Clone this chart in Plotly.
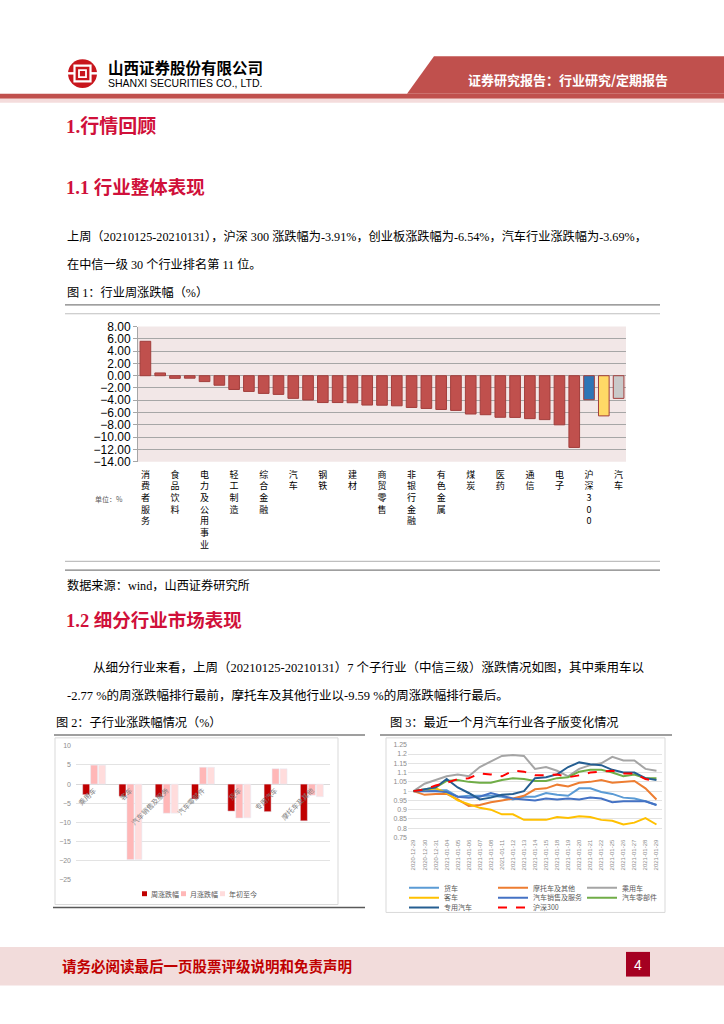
import plotly.graph_objects as go

W, H = 724, 1024
def X(px): return px / W
def Y(py): return 1 - py / H

# ---------------- data ----------------
# Figure 1: weekly change of CITIC level-1 industries (%), sorted
industries = ["消费者服务", "石油石化", "食品饮料", "家电", "电力及公用事业", "农林牧渔",
              "轻工制造", "纺织服装", "综合金融", "建筑", "汽车", "基础化工", "钢铁", "机械",
              "建材", "交通运输", "商贸零售", "房地产", "非银行金融", "银行", "有色金属", "综合",
              "煤炭", "计算机", "医药", "传媒", "通信", "电力设备及新能源", "电子", "国防军工"]
industry_chg = [5.60, 0.45, -0.43, -0.40, -0.96, -1.55, -2.24, -2.56, -2.88, -3.04,
                -3.69, -3.95, -4.37, -4.37, -4.40, -4.78, -4.80, -4.90, -5.17, -5.33,
                -5.50, -5.65, -6.24, -6.35, -6.77, -6.79, -6.99, -7.15, -8.00, -11.68]
index_names = ["沪深300", "创业板", "汽车"]
index_chg = [-3.91, -6.54, -3.69]

# Figure 2: sub-industry changes (%)
sub_names = ["乘用车", "客车", "汽车销售及服务", "汽车零部件", "货车", "专用汽车", "摩托车及其他"]
sub_week = [-2.77, -3.20, -3.40, -3.90, -7.05, -7.20, -9.59]
sub_month = [4.95, -19.70, -7.60, 4.40, -8.85, 4.00, -2.90]
sub_ytd = [4.95, -19.70, -7.60, 4.40, -8.80, 4.00, -3.30]
bar_series = ["周涨跌幅", "月涨跌幅", "年初至今"]

# Figure 3: normalised index of sub-industries over the last month
dates = ["2020-12-29", "2020-12-30", "2020-12-31", "2021-01-04", "2021-01-05", "2021-01-06",
         "2021-01-07", "2021-01-08", "2021-01-11", "2021-01-12", "2021-01-13", "2021-01-14",
         "2021-01-15", "2021-01-18", "2021-01-19", "2021-01-20", "2021-01-21", "2021-01-22",
         "2021-01-25", "2021-01-26", "2021-01-27", "2021-01-28", "2021-01-29"]
line_names = ["货车", "摩托车及其他", "乘用车", "客车", "汽车销售及服务", "汽车零部件", "专用汽车", "沪深300"]
truck = [1.0, 1.005, 1.005, 1.005, 0.970, 0.975, 0.975, 0.975, 0.970, 0.955, 0.970, 0.970,
         0.990, 0.980, 0.975, 1.015, 1.015, 0.995, 0.985, 0.965, 0.960, 0.945, 0.925]
moto = [1.0, 0.980, 0.985, 0.985, 0.955, 0.920, 0.925, 0.940, 0.950, 0.960, 0.975, 1.010,
        1.015, 1.035, 1.025, 1.045, 1.050, 1.060, 1.045, 1.050, 1.055, 1.015, 0.955]
passenger = [1.0, 1.040, 1.060, 1.080, 1.090, 1.080, 1.130, 1.160, 1.190, 1.195, 1.190, 1.120,
             1.130, 1.110, 1.080, 1.120, 1.140, 1.150, 1.185, 1.165, 1.165, 1.120, 1.110]
bus = [1.0, 1.005, 1.015, 0.990, 0.950, 0.930, 0.910, 0.900, 0.875, 0.875, 0.845, 0.845,
       0.845, 0.860, 0.855, 0.865, 0.860, 0.845, 0.840, 0.820, 0.830, 0.855, 0.820]
sales = [1.0, 1.000, 1.000, 0.995, 0.970, 0.965, 0.970, 0.990, 0.975, 0.960, 0.955, 0.950,
         0.960, 0.955, 0.960, 0.955, 0.965, 0.960, 0.940, 0.945, 0.945, 0.945, 0.925]
parts = [1.0, 1.010, 1.020, 1.055, 1.060, 1.050, 1.045, 1.045, 1.060, 1.070, 1.065, 1.055,
         1.055, 1.070, 1.075, 1.105, 1.115, 1.115, 1.100, 1.080, 1.090, 1.070, 1.070]
special = [1.0, 1.010, 1.020, 1.065, 1.020, 0.990, 0.955, 0.965, 0.980, 0.985, 1.000, 1.070,
           1.075, 1.090, 1.130, 1.155, 1.145, 1.140, 1.115, 1.100, 1.100, 1.070, 1.060]
hs300 = [1.0, 1.010, 1.030, 1.045, 1.065, 1.070, 1.095, 1.090, 1.080, 1.110, 1.105, 1.085,
         1.085, 1.090, 1.075, 1.085, 1.100, 1.105, 1.110, 1.095, 1.095, 1.065, 1.055]
line_values = [truck, moto, passenger, bus, sales, parts, special, hs300]

# ---------------- styles ----------------
RED = "#C0504D"
HEAD_RED = "#D0103A"
BODY = 'Liberation Serif, "Noto Sans CJK SC", serif'
CJK = '"Noto Sans CJK SC", sans-serif'
SANS = 'Liberation Sans, "Noto Sans CJK SC", sans-serif'
line_colors = ["#5B9BD5", "#ED7D31", "#A5A5A5", "#FFC000", "#4472C4", "#70AD47", "#255E91", "#FF0000"]
bar_cols = ["#C00000", "#FFB7B7", "#FFDCDC"]

fig = go.Figure()

# ---- Figure 1 ----
names1 = industries + index_names
vals1 = industry_chg + index_chg
pos1 = list(range(len(names1)))
cols1 = [RED] * len(industries) + ["#2E75B6", "#FFD966", "#C9C9C9"]
fig.add_trace(go.Bar(x=pos1, y=vals1, marker=dict(color=cols1, line=dict(color="#A23E3C", width=1)),
                     width=0.72, xaxis="x", yaxis="y", showlegend=False, hovertext=names1))

# ---- Figure 2 ----
for nm, vals, c in zip(bar_series, [sub_week, sub_month, sub_ytd], bar_cols):
    fig.add_trace(go.Bar(x=sub_names, y=vals, name=nm, marker=dict(color=c),
                         xaxis="x2", yaxis="y2", showlegend=False))

# ---- Figure 3 ----
for i, (nm, vals) in enumerate(zip(line_names, line_values)):
    fig.add_trace(go.Scatter(x=dates, y=vals, name=nm, mode="lines",
                             line=dict(color=line_colors[i], width=2,
                                       dash="dash" if nm == "沪深300" else "solid"),
                             xaxis="x3", yaxis="y3", legend=["legend2", "legend3", "legend4"][i // 3]))

# ---- axes ----
even = [p for p in pos1 if p % 2 == 0]
fig.update_layout(
    xaxis=dict(domain=[X(138), X(626)], range=[-0.5, len(names1) - 0.5], anchor="y",
               tickvals=even, ticktext=["<br>".join(list(names1[p])) for p in even],
               tickangle=0, tickfont=dict(family=CJK, size=9, color="#000"),
               showgrid=False, zeroline=False, showline=False, ticks="", ticklabelstandoff=6),
    yaxis=dict(domain=[Y(461), Y(324)], range=[-14, 8], dtick=2, tick0=0, tickformat=".2f",
               anchor="x", showgrid=True, gridcolor="#A6A6A6", gridwidth=1, zeroline=False,
               showline=True, linecolor="#A6A6A6", ticks="outside", ticklen=4, tickcolor="#A6A6A6",
               tickfont=dict(family=SANS, size=12, color="#000")),
    xaxis2=dict(domain=[X(76), X(330)], anchor="free", position=Y(749 + 10 / 35 * 136),
                type="category", tickangle=-45, tickfont=dict(family=CJK, size=7, color="#7F7F7F"),
                showgrid=False, zeroline=False, showline=False, ticks=""),
    yaxis2=dict(domain=[Y(885), Y(749)], range=[-25, 10], dtick=5, anchor="x2",
                gridcolor="#E3E3E3", zeroline=True, zerolinecolor="#D9D9D9", zerolinewidth=1,
                tickfont=dict(family=SANS, size=7, color="#8C8C8C"), showline=False, ticks="",
                ticklabelstandoff=4),
    xaxis3=dict(domain=[X(408), X(662)], range=[-0.5, len(dates) - 0.5], type="category",
                anchor="y3", tickangle=-90, tickfont=dict(family=SANS, size=6, color="#8C8C8C"),
                showgrid=False, zeroline=False, showline=False, ticks=""),
    yaxis3=dict(domain=[Y(842), Y(748)], range=[0.75, 1.25], dtick=0.05, tick0=0.75, anchor="x3",
                gridcolor="#E3E3E3", zeroline=False, showline=False, ticks="",
                tickfont=dict(family=SANS, size=7, color="#8C8C8C")),
    barmode="group", bargap=0.34, bargroupgap=0.12,
)

leg_common = dict(orientation="h", font=dict(family=CJK, size=7, color="#595959"),
                  bgcolor="rgba(0,0,0,0)", xanchor="left", yanchor="middle",
                  entrywidthmode="pixels", itemwidth=30, tracegroupgap=0)
fig.update_layout(
    legend2=dict(leg_common, x=X(404), y=Y(893), entrywidth=44),
    legend3=dict(leg_common, x=X(404), y=Y(903), entrywidth=44),
    legend4=dict(leg_common, x=X(404), y=Y(913), entrywidth=44),
)

# ---------------- page decoration ----------------
shapes = []
def rect(x0, y0, x1, y1, fill=None, line=None, lw=1, layer="below"):
    shapes.append(dict(type="rect", xref="paper", yref="paper", x0=X(x0), x1=X(x1), y0=Y(y1), y1=Y(y0),
                       fillcolor=fill or "rgba(0,0,0,0)",
                       line=dict(color=line or "rgba(0,0,0,0)", width=lw if line else 0),
                       layer=layer))
def hline(x0, x1, y, color, width=1):
    shapes.append(dict(type="line", xref="paper", yref="paper", x0=X(x0), x1=X(x1), y0=Y(y), y1=Y(y),
                       line=dict(color=color, width=width)))

# header
shapes.append(dict(type="path", xref="paper", yref="paper",
                   path=f"M {X(434)},{Y(50)} L {X(724)},{Y(50)} L {X(724)},{Y(88)} L {X(407)},{Y(88)} Z",
                   fillcolor=RED, line=dict(width=0)))
rect(0, 88, 724, 93, fill=RED)
rect(0, 93, 724, 97, fill="#F4DCDC")
# logo
shapes.append(dict(type="circle", xref="paper", yref="paper", x0=X(68), x1=X(97), y0=Y(82), y1=Y(53),
                   fillcolor="#C8161D", line=dict(width=0)))
rect(74.5, 59.5, 90.5, 75.5, line="white", lw=2.2, layer="above")
rect(79, 64, 86, 71, line="white", lw=1.8, layer="above")
rect(68, 66, 74, 68.5, fill="white", layer="above")
rect(91, 66, 97, 68.5, fill="white", layer="above")

# chart 1 frame and background
hline(65, 660, 302, "#7F7F7F", 1.2)
hline(65, 660, 311, "#BFBFBF", 1.2)
hline(65, 660, 562, "#BFBFBF", 1.2)
hline(65, 660, 571, "#7F7F7F", 1.2)
shapes.append(dict(type="rect", xref="x domain", yref="y domain", x0=0, x1=1, y0=0, y1=1,
                   fillcolor="#F2E7E7", line=dict(width=0), layer="below"))

# captions underline, chart frames
hline(54, 365, 738, "#7F7F7F", 1.5)
hline(380, 672, 738, "#7F7F7F", 1.5)
rect(55, 741, 338, 910, line="#D9D9D9", lw=1)
hline(53, 365, 913, "#595959", 1.5)
rect(386, 741, 665, 918, line="#D9D9D9", lw=1)

# footer
rect(0, 953, 724, 992, fill="#F2DCDB")
rect(626, 958, 650, 983, fill="#A50021")

# ---------------- texts ----------------
ann = []
def txt(x, y, s, size, color="#000", family=BODY, anchor="left", bold=False):
    ann.append(dict(x=X(x), y=Y(y), xref="paper", yref="paper", text=f"<b>{s}</b>" if bold else s,
                    showarrow=False, xanchor=anchor, yanchor="middle",
                    font=dict(size=size, color=color, family=family)))

# figure 2 legend (small square keys, as in the source)
leg_x = [142, 181, 220]
for lx, nm, c in zip(leg_x, bar_series, bar_cols):
    rect(lx, 896.5, lx + 5, 901.5, fill=c, layer="above")
    txt(lx + 7, 899, nm, 7, "#595959", CJK)

fig.update_layout(shapes=shapes)

txt(106, 61, "山西证券股份有限公司", 15.5, "#000", CJK, bold=True)
txt(106, 77, "SHANXI SECURITIES CO., LTD.", 10.5, "#000", SANS)
txt(568, 73, "证券研究报告：行业研究/定期报告", 13, "#FFFFFF", CJK, "center", bold=True)

txt(64, 121, "1.行情回顾", 19, HEAD_RED, BODY, bold=True)
txt(64, 183, "1.1 行业整体表现", 18.5, HEAD_RED, BODY, bold=True)
txt(65, 233, "上周（20210125-20210131），沪深 300 涨跌幅为-3.91%，创业板涨跌幅为-6.54%，汽车行业涨跌幅为-3.69%，", 12.2, "#000", BODY)
txt(65, 261, "在中信一级 30 个行业排名第 11 位。", 12.2, "#000", BODY)
txt(65, 289, "图 1：行业周涨跌幅（%）", 12.2, "#000", BODY)
txt(93, 499, "单位：%", 7, "#595959", CJK)

txt(65, 587, "数据来源：wind，山西证券研究所", 12.2, "#000", BODY)
txt(64, 622, "1.2 细分行业市场表现", 18.5, HEAD_RED, BODY, bold=True)
txt(91, 670, "从细分行业来看，上周（20210125-20210131）7 个子行业（中信三级）涨跌情况如图，其中乘用车以", 12.5, "#000", BODY)
txt(65, 698, "-2.77 %的周涨跌幅排行最前，摩托车及其他行业以-9.59 %的周涨跌幅排行最后。", 12.5, "#000", BODY)
txt(54, 725, "图 2：子行业涨跌幅情况（%）", 12.2, "#000", BODY)
txt(388, 725, "图 3：最近一个月汽车行业各子版变化情况", 12.2, "#000", BODY)

txt(60, 972, "请务必阅读最后一页股票评级说明和免责声明", 14.5, "#C00000", CJK, bold=True)
txt(638, 971, "4", 14, "#FFFFFF", SANS, "center")

fig.update_layout(annotations=ann, width=W, height=H, margin=dict(l=0, r=0, t=0, b=0),
                  paper_bgcolor="white", plot_bgcolor="rgba(0,0,0,0)",
                  font=dict(family=CJK))

fig.write_html("out.html", config={"displayModeBar": False},
               post_script="document.body.style.margin='0';document.body.style.overflow='hidden';")
